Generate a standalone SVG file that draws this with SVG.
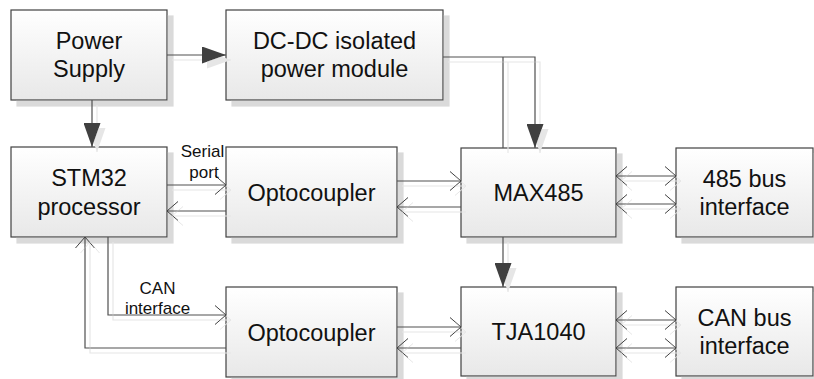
<svg xmlns="http://www.w3.org/2000/svg" width="814" height="379" viewBox="0 0 814 379">
<defs>
<linearGradient id="bg" x1="0" y1="0" x2="0" y2="1">
<stop offset="0" stop-color="#ffffff"/>
<stop offset="1" stop-color="#e8e8e8"/>
</linearGradient>
<filter id="bs" filterUnits="userSpaceOnUse" x="0" y="0" width="814" height="379">
<feDropShadow dx="6" dy="6" stdDeviation="0" flood-color="#dadada"/>
</filter>
<filter id="ls" filterUnits="userSpaceOnUse" x="0" y="0" width="814" height="379">
<feDropShadow dx="5" dy="5" stdDeviation="0" flood-color="#e6e6e6"/>
</filter>
<marker id="fa" viewBox="0 0 24 17" refX="24" refY="8.5" markerWidth="24" markerHeight="17" orient="auto" markerUnits="userSpaceOnUse">
<path d="M0,0 L24,8.5 L0,17 z" fill="#404040"/>
</marker>
<marker id="oa" viewBox="-1 -1 13 21" refX="11" refY="9.5" markerWidth="13" markerHeight="21" orient="auto-start-reverse" markerUnits="userSpaceOnUse">
<path d="M0,0 L11,9.5 L0,19" fill="none" stroke="#404040" stroke-width="1"/>
</marker>
</defs>
<style>
.box{fill:url(#bg);stroke:#404040;stroke-width:1.2;filter:url(#bs)}
.t{font-family:"Liberation Sans",Arial,sans-serif;font-size:23.5px;fill:#111;text-anchor:middle}
.s{font-family:"Liberation Sans",Arial,sans-serif;font-size:17px;fill:#111;text-anchor:middle}
.c{fill:none;stroke:#505050;stroke-width:1.2}
.f{marker-end:url(#fa)}
.o{marker-end:url(#oa)}
.d{marker-start:url(#oa);marker-end:url(#oa)}
</style>
<rect width="814" height="379" fill="#ffffff"/>
<g id="power-supply">
<rect class="box" x="11" y="10" width="156" height="90"/>
<text class="t" x="89" y="48.5">Power</text>
<text class="t" x="89" y="77">Supply</text>
</g>
<g id="dcdc">
<rect class="box" x="226" y="10" width="217" height="90"/>
<text class="t" x="334.5" y="48.5">DC-DC isolated</text>
<text class="t" x="334.5" y="77">power module</text>
</g>
<g id="stm32">
<rect class="box" x="11" y="147" width="156" height="90"/>
<text class="t" x="89" y="186">STM32</text>
<text class="t" x="89" y="214.5">processor</text>
</g>
<g id="opto1">
<rect class="box" x="226" y="147" width="171" height="90"/>
<text class="t" x="311.5" y="200.5">Optocoupler</text>
</g>
<g id="max485">
<rect class="box" x="461" y="148" width="155" height="89"/>
<text class="t" x="538.5" y="200.5">MAX485</text>
</g>
<g id="bus485">
<rect class="box" x="676" y="148" width="137" height="89"/>
<text class="t" x="744.5" y="186.5">485 bus</text>
<text class="t" x="744.5" y="215">interface</text>
</g>
<g id="opto2">
<rect class="box" x="226" y="287" width="171" height="90"/>
<text class="t" x="311.5" y="340.5">Optocoupler</text>
</g>
<g id="tja1040">
<rect class="box" x="461" y="287" width="155" height="89"/>
<text class="t" x="538.5" y="339.5">TJA1040</text>
</g>
<g id="canbus">
<rect class="box" x="676" y="287" width="137" height="89"/>
<text class="t" x="744.5" y="325.5">CAN bus</text>
<text class="t" x="744.5" y="354">interface</text>
</g>
<g id="connectors" filter="url(#ls)">
<path class="c f" d="M167,55 H226"/>
<path class="c f" d="M92,100 V147"/>
<path class="c f" d="M443,57 H535 V148"/>
<path class="c" d="M503,57 V148"/>
<path class="c f" d="M503,237 V287"/>
<path class="c o" d="M167,185 H226"/>
<path class="c o" d="M226,211 H167"/>
<path class="c o" d="M397,181 H461"/>
<path class="c o" d="M461,207 H397"/>
<path class="c d" d="M616,176 H676"/>
<path class="c d" d="M616,204 H676"/>
<path class="c o" d="M108,237 V315 H226"/>
<path class="c o" d="M226,348 H85 V237"/>
<path class="c o" d="M397,327 H461"/>
<path class="c o" d="M461,348 H397"/>
<path class="c d" d="M616,320 H676"/>
<path class="c d" d="M616,348 H676"/>
</g>
<g id="labels">
<text class="s" x="202.5" y="157">Serial</text>
<text class="s" x="204" y="178">port</text>
<text class="s" x="157.5" y="293.5">CAN</text>
<text class="s" x="157.5" y="313.5">interface</text>
</g>
</svg>
